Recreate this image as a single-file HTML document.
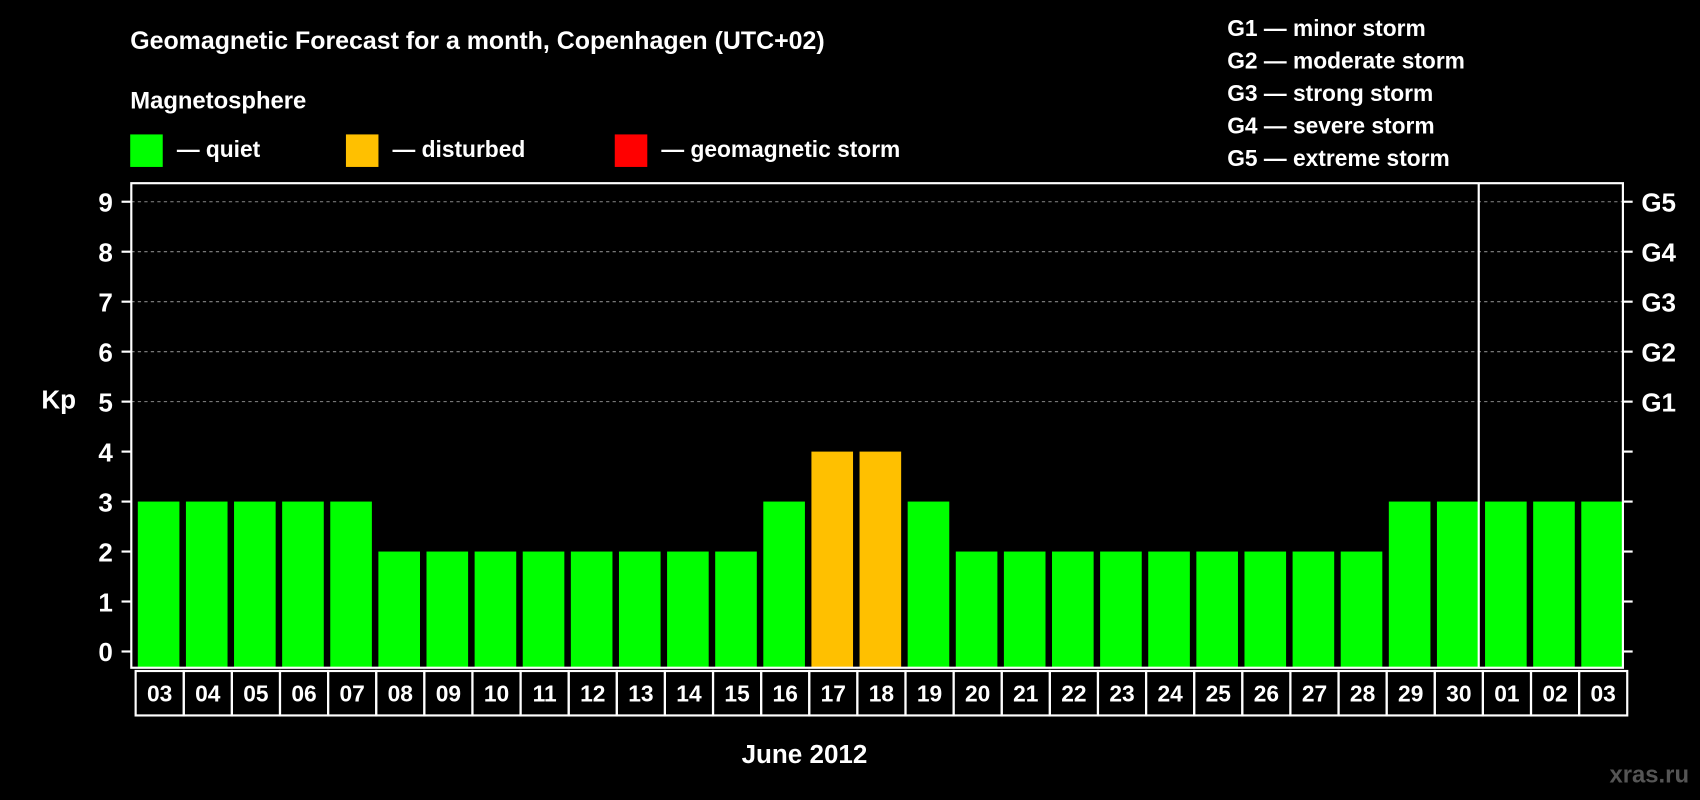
<!DOCTYPE html>
<html><head><meta charset="utf-8"><style>
html,body{margin:0;padding:0;background:#000;}
svg{display:block;font-family:"Liberation Sans",Arial,sans-serif;font-weight:bold;}
</style></head><body>
<svg width="1700" height="800" viewBox="0 0 1568 738" xmlns="http://www.w3.org/2000/svg">
<rect width="1568" height="738" fill="#000"/>
<text x="120" y="45" fill="#fff" font-size="23">Geomagnetic Forecast for a month, Copenhagen (UTC+02)</text>
<text x="120" y="100" fill="#fff" font-size="22">Magnetosphere</text>
<g><rect x="120" y="124" width="30" height="30" fill="#00ff00"/><text x="163" y="145" fill="#fff" font-size="21">— quiet</text></g>
<g><rect x="319" y="124" width="30" height="30" fill="#ffc000"/><text x="362" y="145" fill="#fff" font-size="21">— disturbed</text></g>
<g><rect x="567" y="124" width="30" height="30" fill="#ff0000"/><text x="610" y="145" fill="#fff" font-size="21">— geomagnetic storm</text></g>
<g fill="#fff" font-size="21">
<text x="1132" y="33">G1 — minor storm</text>
<text x="1132" y="63">G2 — moderate storm</text>
<text x="1132" y="93">G3 — strong storm</text>
<text x="1132" y="123">G4 — severe storm</text>
<text x="1132" y="153">G5 — extreme storm</text>
</g>
<g id="grid"></g>
<g id="bars"></g>
<rect x="121" y="169" width="1376" height="447" fill="none" stroke="#fff" stroke-width="2"/>
<line x1="1364" y1="169" x2="1364" y2="616" stroke="#fff" stroke-width="2"/>
<g id="axes"></g>
<g id="dates"></g>
<text x="38" y="377" fill="#fff" font-size="24">Kp</text>
<text x="742" y="704" fill="#fff" font-size="24" text-anchor="middle">June 2012</text>
<text x="1558" y="722" fill="#555" font-size="22" text-anchor="end">xras.ru</text>
</svg>
<script>
const days=["03","04","05","06","07","08","09","10","11","12","13","14","15","16","17","18","19","20","21","22","23","24","25","26","27","28","29","30","01","02","03"];
const kp=[3,3,3,3,3,2,2,2,2,2,2,2,2,3,4,4,3,2,2,2,2,2,2,2,2,2,3,3,3,3,3];
const yTicks=[0,1,2,3,4,5,6,7,8,9];
const gLabels=["","","","","","G1","G2","G3","G4","G5"];
const NS="http://www.w3.org/2000/svg";
const X0=121,X1=1497,slot=(X1-X0)/days.length,bottom=616;
const y=v=>601-v*46.1;
function mk(tag,attrs,parent){const e=document.createElementNS(NS,tag);for(const k in attrs)e.setAttribute(k,attrs[k]);document.getElementById(parent).appendChild(e);return e;}
const color=v=>v>=5?"#ff0000":(v>=4?"#ffc000":"#00ff00");
kp.forEach((v,i)=>{
 const r=mk("rect",{x:X0+i*slot+6,y:y(v),width:slot-6,height:bottom-y(v),fill:color(v)},"bars");
 
 
 const b=mk("rect",{x:X0+i*slot+4,y:619,width:slot,height:41,fill:"none",stroke:"#fff","stroke-width":2},"dates");
 
 
 const t=mk("text",{x:X0+i*slot+4+slot/2,y:647,fill:"#fff","font-size":21,"text-anchor":"middle"},"dates");
 t.textContent=days[i];
 
 
});
yTicks.forEach((v,i)=>{
 if(v>=5){const g=mk("line",{x1:X0,x2:X1,y1:y(v),y2:y(v),stroke:"#888","stroke-dasharray":"3,3","stroke-width":1},"grid");
 
 }
 mk("line",{x1:112,x2:X0,y1:y(v),y2:y(v),stroke:"#fff","stroke-width":2},"axes");
 mk("line",{x1:X1,x2:1506,y1:y(v),y2:y(v),stroke:"#fff","stroke-width":2},"axes");
 const t=mk("text",{x:104,y:y(v)+9,fill:"#fff","font-size":24,"text-anchor":"end"},"axes");
 t.textContent=v;
 
 
 if(gLabels[i]){const g=mk("text",{x:1514,y:y(v)+9,fill:"#fff","font-size":24},"axes");
 g.textContent=gLabels[i];
 
 }
});
</script>
</body></html>
